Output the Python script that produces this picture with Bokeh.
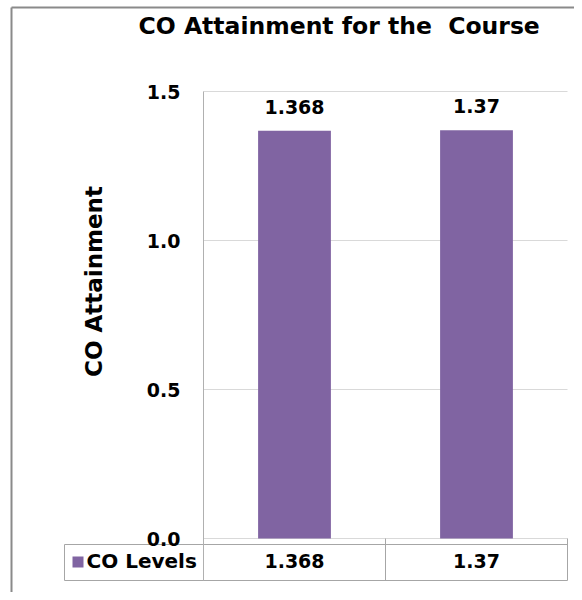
import numpy as np
from bokeh.plotting import figure
from bokeh.models import Range1d, FixedTicker, LinearAxis, NumeralTickFormatter
from bokeh.embed import file_html
from bokeh.resources import INLINE
from bokeh.core.properties import value

# ---------------- data ----------------
title_text = "CO Attainment for the \u00a0Course"
y_title = "CO Attainment"
series_name = "CO Levels"
values = [1.368, 1.37]
value_labels = ["1.368", "1.37"]
y_ticks = [0.0, 0.5, 1.0, 1.5]

# ---------------- style ----------------
BAR = "#8064A2"
FONT = "DejaVu Sans"
GRID = "#D9D9D9"
AXIS = "#B0B0B0"
TABLE = "#A6A6A6"
BORDER = "#8A8A8A"

# layout (pixel positions in the canvas)
W, H = 574, 592
AX_PX = 203        # x of the value axis
CELL = 182         # px per category
Y15_PX, Y0_PX = 91, 538
ppu = (Y0_PX - Y15_PX) / 1.5
TXT_SHIFT = 8      # compensation for the alphabetic baseline in svg output


def dx(px):
    return (px - AX_PX) / CELL


def dy(py):
    return (Y0_PX - py) / ppu


n = len(values)
xc = np.arange(n) + 0.5
bx = np.arange(n + 1).astype(float)

p = figure(width=W, height=H,
           x_range=Range1d(dx(0), dx(W)),
           y_range=Range1d(dy(H), dy(0)),
           output_backend="svg", toolbar_location=None,
           min_border_left=0, min_border_right=0,
           min_border_top=0, min_border_bottom=0,
           x_axis_location=None)
p.outline_line_color = None
p.background_fill_color = "white"
p.border_fill_color = "white"
p.grid.visible = False

# chart border (left / top)
p.segment(x0=[dx(11), dx(11)], y0=[dy(7), dy(7)],
          x1=[dx(11), dx(W)], y1=[dy(H), dy(7)],
          line_color=BORDER, line_width=2)

# title
p.text(x=[dx(138)], y=[dy(33 - TXT_SHIFT)], text=[title_text], text_align="left",
       text_baseline="alphabetic", text_font=value(FONT),
       text_font_size="23.5px", text_font_style="bold", text_color="black")

# gridlines
p.segment(x0=0, y0=y_ticks, x1=bx[-1], y1=y_ticks, line_color=GRID)

# value axis
ya = p.yaxis[0]
ya.fixed_location = 0
ya.ticker = FixedTicker(ticks=y_ticks)
ya.formatter = NumeralTickFormatter(format="0.0")
ya.bounds = (dy(580), 1.5)
ya.axis_line_color = AXIS
ya.major_tick_line_color = None
ya.minor_tick_line_color = None
ya.major_tick_out = 0
ya.major_tick_in = 0
ya.major_label_standoff = 23
ya.major_label_text_font = FONT
ya.major_label_text_font_size = "19px"
ya.major_label_text_font_style = "bold"
ya.major_label_text_color = "black"

c = dy(281)
ya2 = LinearAxis(axis_label=y_title, ticker=FixedTicker(ticks=[]),
                 fixed_location=0,
                 bounds=(c - 0.3, c + 0.3), axis_line_color=None,
                 major_tick_line_color=None, minor_tick_line_color=None,
                 major_tick_out=0, major_tick_in=0, major_label_standoff=0,
                 axis_label_standoff=97, axis_label_text_font=FONT,
                 axis_label_text_font_size="23px",
                 axis_label_text_font_style="bold",
                 axis_label_text_color="black")
p.add_layout(ya2, "left")

# bars and data labels
p.vbar(x=xc, top=values, width=0.4, fill_color=BAR, line_color=None)
p.text(x=xc, y=values, text=value_labels, text_align="center",
       text_baseline="alphabetic", y_offset=-16 - TXT_SHIFT,
       text_font=value(FONT), text_font_size="19px",
       text_font_style="bold", text_color="black")

# category separators below the axis + data table
p.segment(x0=bx[1:], y0=0, x1=bx[1:], y1=dy(580), line_color=TABLE)
p.segment(x0=[dx(64), dx(64)], y0=[dy(544), dy(580)],
          x1=[bx[-1], bx[-1]], y1=[dy(544), dy(580)], line_color=TABLE)
p.segment(x0=[dx(64)], y0=[dy(544)], x1=[dx(64)], y1=[dy(580)],
          line_color=TABLE)
p.scatter(x=[dx(77.5)], y=[dy(561.5)], marker="square", size=11,
          fill_color=BAR, line_color=None)
p.text(x=[dx(86)], y=[dy(568 - TXT_SHIFT)], text=[series_name],
       text_align="left", text_baseline="alphabetic",
       text_font=value(FONT), text_font_size="20px",
       text_font_style="bold", text_color="black")
p.text(x=xc, y=dy(568 - TXT_SHIFT), text=value_labels, text_align="center",
       text_baseline="alphabetic", text_font=value(FONT),
       text_font_size="19px", text_font_style="bold", text_color="black")

open("out.html", "w").write(file_html(p, INLINE))
